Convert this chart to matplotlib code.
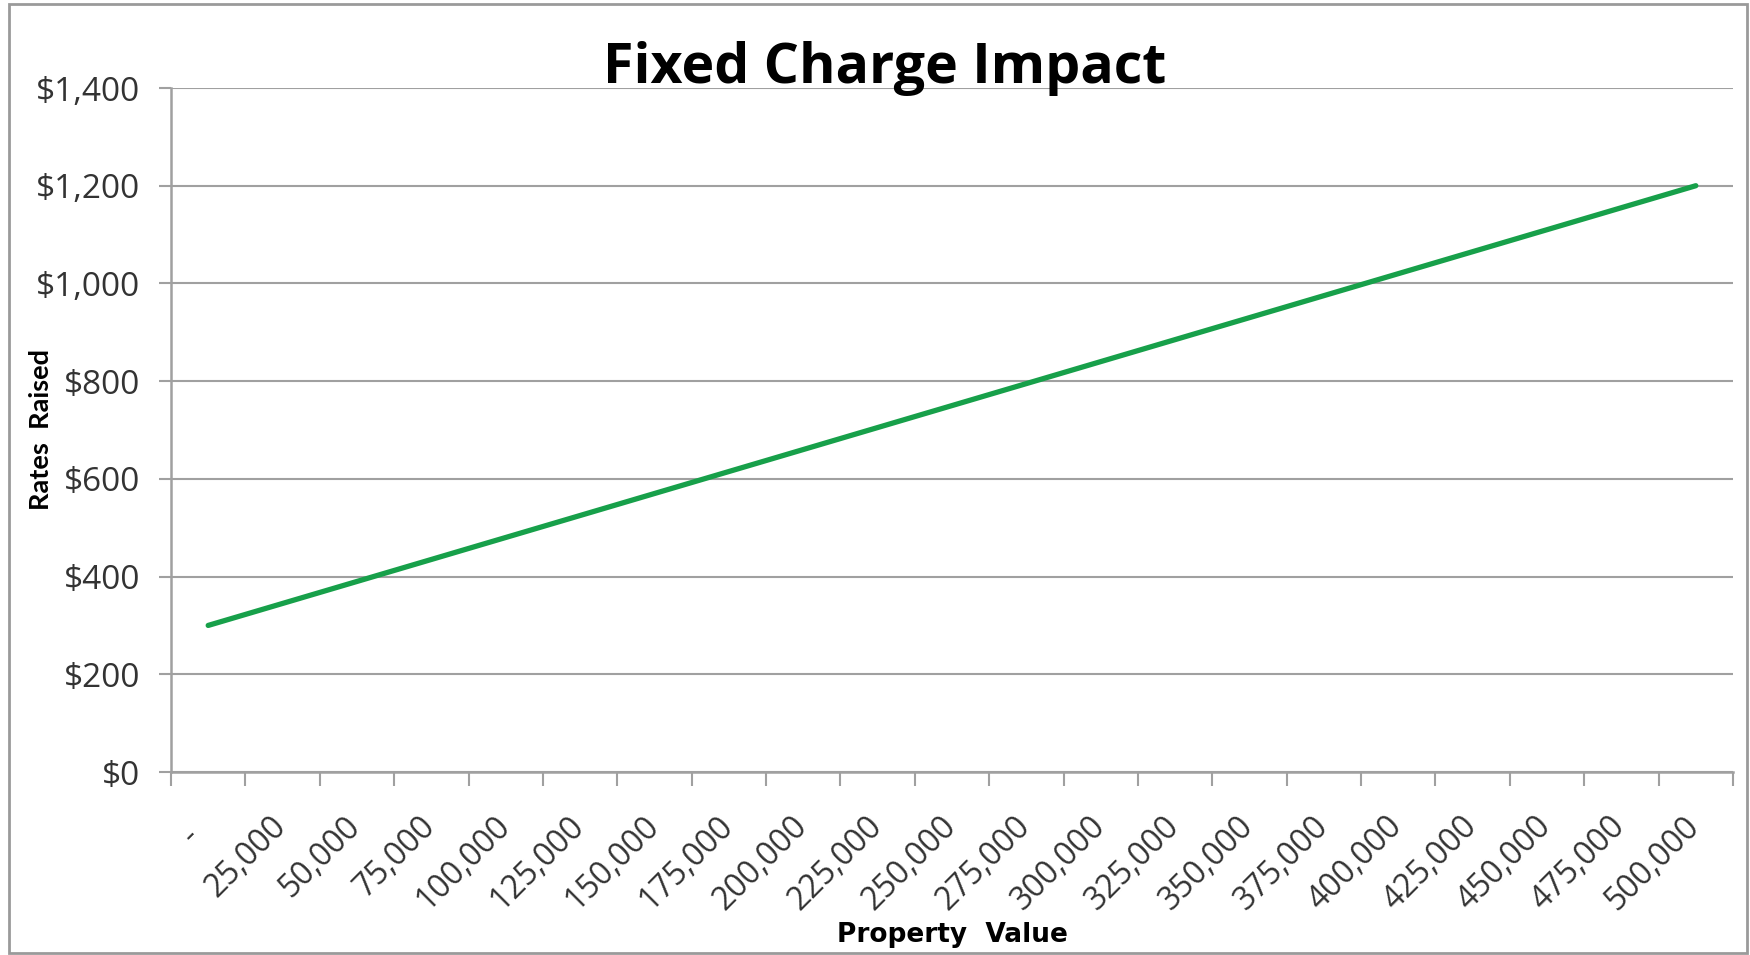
import matplotlib
matplotlib.use("Agg")
import matplotlib.pyplot as plt
import matplotlib.transforms as mtransforms
from matplotlib.patches import Rectangle
from matplotlib.ticker import FuncFormatter, FixedLocator
import numpy as np

# property value categories along the x axis (zero shown accounting style)
property_values = ['-  ', '25,000', '50,000', '75,000', '100,000', '125,000',
                   '150,000', '175,000', '200,000', '225,000', '250,000',
                   '275,000', '300,000', '325,000', '350,000', '375,000',
                   '400,000', '425,000', '450,000', '475,000', '500,000']

# rates raised for each property value ($)
rates_raised = [300, 345, 390, 435, 480, 525, 570, 615, 660, 705, 750,
                795, 840, 885, 930, 975, 1020, 1065, 1110, 1155, 1200]

y_ticks = [0, 200, 400, 600, 800, 1000, 1200, 1400]

plt.rcParams['font.family'] = ['Open Sans', 'DejaVu Sans']

grey = '#a0a0a0'
text_col = '#333333'

fig = plt.figure(figsize=(17.5, 9.55), dpi=100)
fig.patch.set_facecolor('white')
ax = fig.add_axes([171 / 1750, 1 - 772 / 955, (1733 - 171) / 1750, (772 - 88) / 955])

x = np.arange(len(property_values))
ax.plot(x, rates_raised, color='#17a04a', lw=3.8, solid_capstyle='round', zorder=3)

ax.set_xlim(-0.5, len(property_values) - 0.5)
ax.set_ylim(0, 1400)

# y axis: dollar labels and horizontal gridlines
ax.set_yticks(y_ticks)
ax.yaxis.set_major_formatter(FuncFormatter(lambda v, p: '${:,.0f}'.format(v)))
ax.grid(axis='y', color=grey, lw=1.5, zorder=1)
ax.tick_params(axis='y', length=9, width=1.5, color=grey, labelsize=24,
               labelcolor=text_col, pad=13)

# x axis: tick marks between categories, labels at the centres
ax.xaxis.set_major_locator(FixedLocator(np.arange(len(property_values) + 1) - 0.5))
ax.xaxis.set_major_formatter(FuncFormatter(lambda v, p: ''))
ax.set_xticks(x, minor=True)
ax.set_xticklabels(property_values, minor=True, rotation=45, ha='right',
                   va='top', rotation_mode='anchor')
ax.tick_params(axis='x', which='major', length=10, width=1.5, color=grey)
ax.tick_params(axis='x', which='minor', length=0, labelsize=23,
               labelcolor=text_col, pad=27)
shift = mtransforms.ScaledTranslation(-9 / 72, 0, fig.dpi_scale_trans)
for lbl in ax.get_xticklabels(minor=True):
    lbl.set_transform(lbl.get_transform() + shift)

for side in ('top', 'right'):
    ax.spines[side].set_visible(False)
for side in ('left', 'bottom'):
    ax.spines[side].set_color(grey)
    ax.spines[side].set_linewidth(1.8)

fig.text(885 / 1750, 1 - 68 / 955, 'Fixed Charge Impact', ha='center', va='center',
         fontsize=40, fontweight='bold', color='black')
fig.text(41 / 1750, 1 - 430 / 955, 'Rates  Raised', family='Lato', rotation=90,
         ha='center', va='center', fontsize=19.5, fontweight='bold', color='black')
fig.text(952 / 1750, 1 - 935 / 955, 'Property  Value', family='DejaVu Sans',
         ha='center', va='center', fontsize=19, fontweight='bold', color='black')

# outer chart border
fig.add_artist(Rectangle((9 / 1750, 2 / 955), (1747 - 9) / 1750, (951 - 2) / 955,
                         transform=fig.transFigure, fill=False,
                         edgecolor='#9a9a9a', lw=2))

fig.savefig('out.png', dpi=100)
